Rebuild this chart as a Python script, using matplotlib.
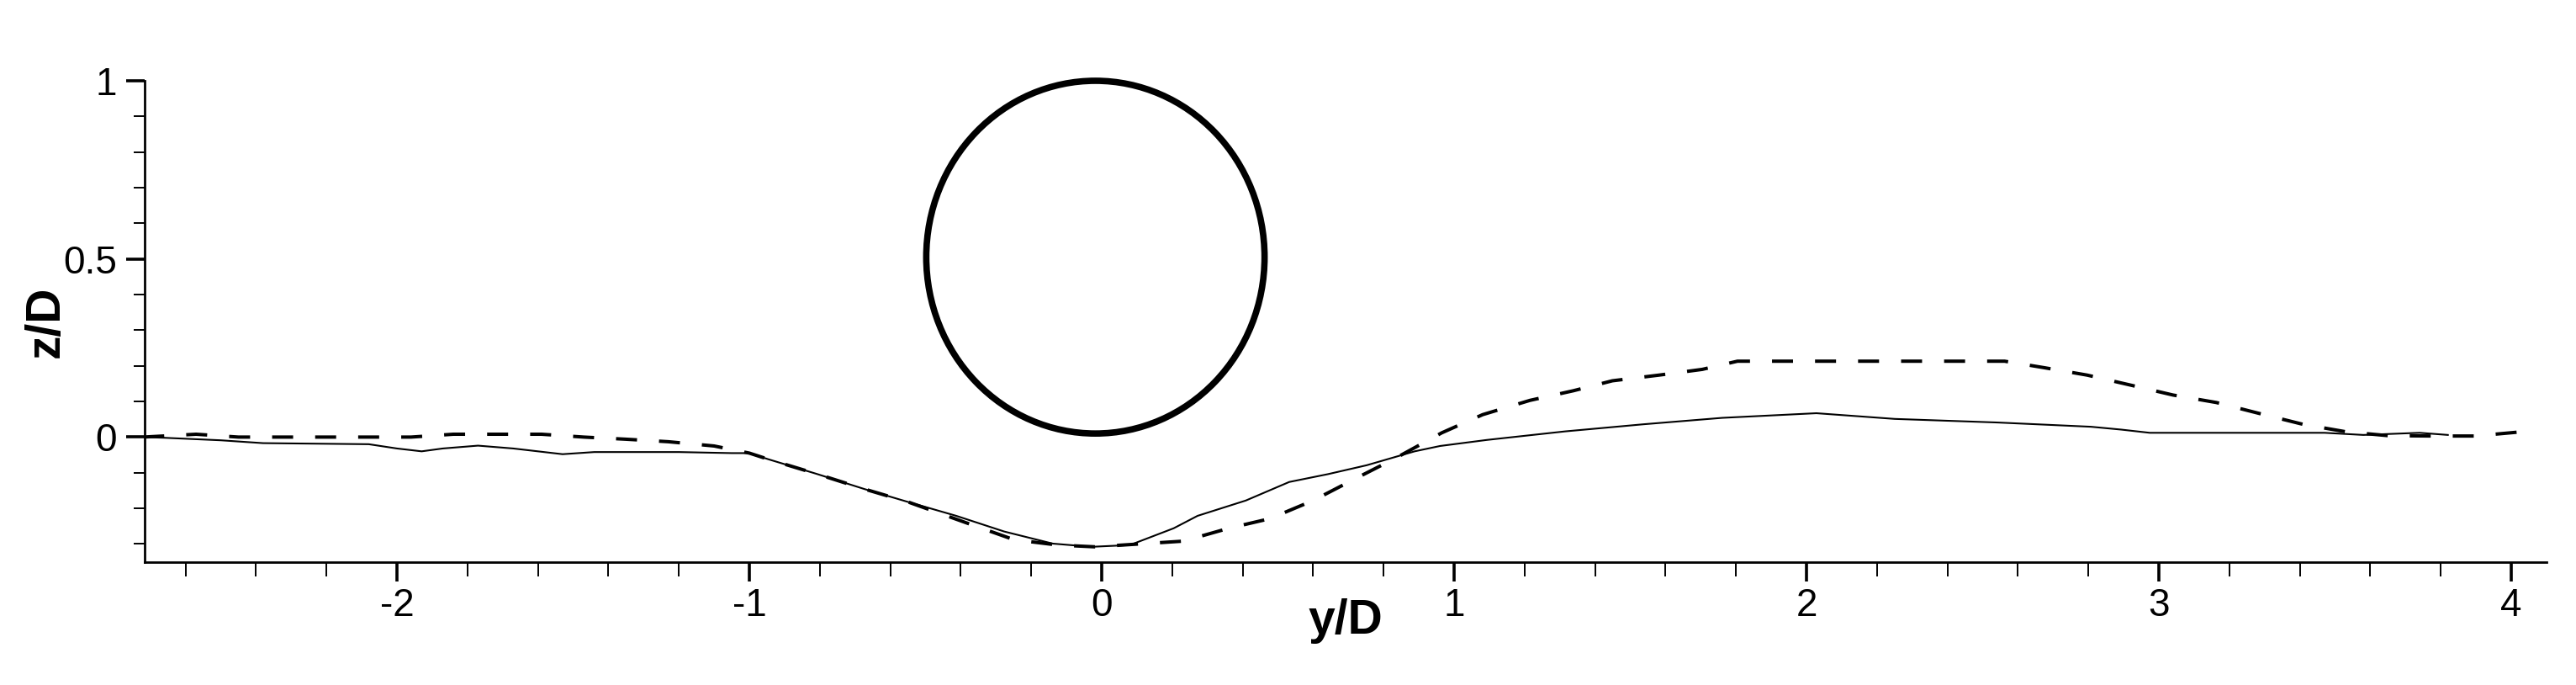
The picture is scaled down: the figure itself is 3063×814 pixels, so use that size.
import matplotlib
matplotlib.use("Agg")
import matplotlib.pyplot as plt
from matplotlib.patches import Ellipse
from matplotlib.ticker import MultipleLocator, FixedLocator

plt.rcParams['axes.unicode_minus'] = False

# ---- data ----
solid_x = [-2.72, -2.66, -2.5, -2.38, -2.08, -2.0, -1.93, -1.87, -1.77, -1.67, -1.6, -1.53,
           -1.44, -1.2, -1.05, -1.0, -0.947, -0.81, -0.673, -0.55, -0.413, -0.277, -0.139,
           -0.029, 0.08, 0.204, 0.272, 0.409, 0.532, 0.642, 0.752, 0.888, 0.96, 1.093, 1.315,
           1.538, 1.761, 2.028, 2.25, 2.54, 2.807, 2.893, 2.974, 3.47, 3.58, 3.74, 3.82]
solid_z = [0.0, -0.002, -0.009, -0.017, -0.02, -0.032, -0.04, -0.032, -0.024, -0.032, -0.04,
           -0.048, -0.042, -0.042, -0.045, -0.045, -0.062, -0.103, -0.146, -0.182, -0.221,
           -0.265, -0.299, -0.308, -0.303, -0.256, -0.221, -0.178, -0.126, -0.104, -0.079,
           -0.04, -0.025, -0.008, 0.016, 0.036, 0.054, 0.067, 0.051, 0.041, 0.029, 0.021,
           0.012, 0.012, 0.006, 0.012, 0.006]

dashed_x = [-2.72, -2.57, -2.45, -2.08, -1.96, -1.84, -1.71, -1.59, -1.47, -1.35, -1.23, -1.1,
            -1.0, -0.947, -0.81, -0.673, -0.55, -0.372, -0.249, -0.125, -0.02, 0.107, 0.232,
            0.36, 0.477, 0.60, 0.725, 0.834, 0.965, 1.081, 1.215, 1.338, 1.449, 1.582, 1.704,
            1.804, 2.0, 2.3, 2.562, 2.673, 2.796, 2.919, 3.04, 3.163, 3.286, 3.408, 3.53,
            3.65, 3.776, 3.897, 4.02, 4.05]
dashed_z = [0.0, 0.008, 0.0, 0.0, 0.0, 0.008, 0.008, 0.008, 0.0, -0.006, -0.013, -0.025,
            -0.045, -0.062, -0.103, -0.146, -0.182, -0.245, -0.288, -0.303, -0.308, -0.300,
            -0.292, -0.256, -0.229, -0.178, -0.114, -0.059, 0.012, 0.063, 0.103, 0.130, 0.158,
            0.174, 0.190, 0.213, 0.213, 0.213, 0.213, 0.195, 0.174, 0.146, 0.118, 0.097,
            0.066, 0.036, 0.015, 0.004, 0.003, 0.003, 0.014, 0.02]

cyl_center = (-0.018, 0.505)
cyl_width = 0.96
cyl_height = 0.99

x_major = [-2, -1, 0, 1, 2, 3, 4]
x_labels = ["-2", "-1", "0", "1", "2", "3", "4"]
y_major = [0, 0.5, 1]
y_labels = ["0", "0.5", "1"]

# ---- figure ----
W, H = 3063, 814
fig = plt.figure(figsize=(W / 100, H / 100), dpi=100)
ax = fig.add_axes([172 / W, 1 - 668 / H, (3028 - 172) / W, (668 - 96) / H])

ax.plot(solid_x, solid_z, color='black', lw=1.5, solid_joinstyle='miter')
ax.plot(dashed_x, dashed_z, color='black', lw=2.9, ls=(0, (6.2, 6.5)), dash_capstyle='butt')
ax.add_patch(Ellipse(cyl_center, cyl_width, cyl_height, fill=False, ec='black', lw=5.5,
                     clip_on=False))

ax.set_xlim(-2.716, 4.1)
ax.set_ylim(-0.351, 1.0)

for s in ('top', 'right'):
    ax.spines[s].set_visible(False)
for s in ('left', 'bottom'):
    ax.spines[s].set_linewidth(2.0)

ax.xaxis.set_major_locator(FixedLocator(x_major))
ax.set_xticklabels(x_labels)
ax.xaxis.set_minor_locator(MultipleLocator(0.2))
ax.yaxis.set_major_locator(FixedLocator(y_major))
ax.set_yticklabels(y_labels)
ax.yaxis.set_minor_locator(MultipleLocator(0.1))

tick_font = ['Liberation Sans Narrow', 'Liberation Sans', 'DejaVu Sans']
ax.tick_params(axis='x', which='major', direction='out', length=16.5, width=2.6,
               pad=5, labelsize=33)
ax.tick_params(axis='x', which='minor', direction='out', length=12, width=1.4)
ax.tick_params(axis='y', which='major', direction='out', length=16, width=2.6,
               pad=8, labelsize=33)
ax.tick_params(axis='y', which='minor', direction='out', length=9.5, width=1.4)
for lab in ax.get_xticklabels() + ax.get_yticklabels():
    lab.set_family(tick_font)

lab_font = ['Liberation Sans', 'DejaVu Sans']
ax.set_xlabel('y/D', family=lab_font, fontweight='bold', fontsize=41)
ax.xaxis.set_label_coords(0.5, (668 - 753) / (668 - 96))
ax.xaxis.label.set_va('baseline')
ax.set_ylabel('z/D', family=lab_font, fontweight='bold', fontsize=41)
ax.yaxis.set_label_coords((55 - 172) / (3028 - 172), 0.5)
ax.yaxis.label.set_va('center')

fig.savefig('out.png', dpi=100, facecolor='white')
